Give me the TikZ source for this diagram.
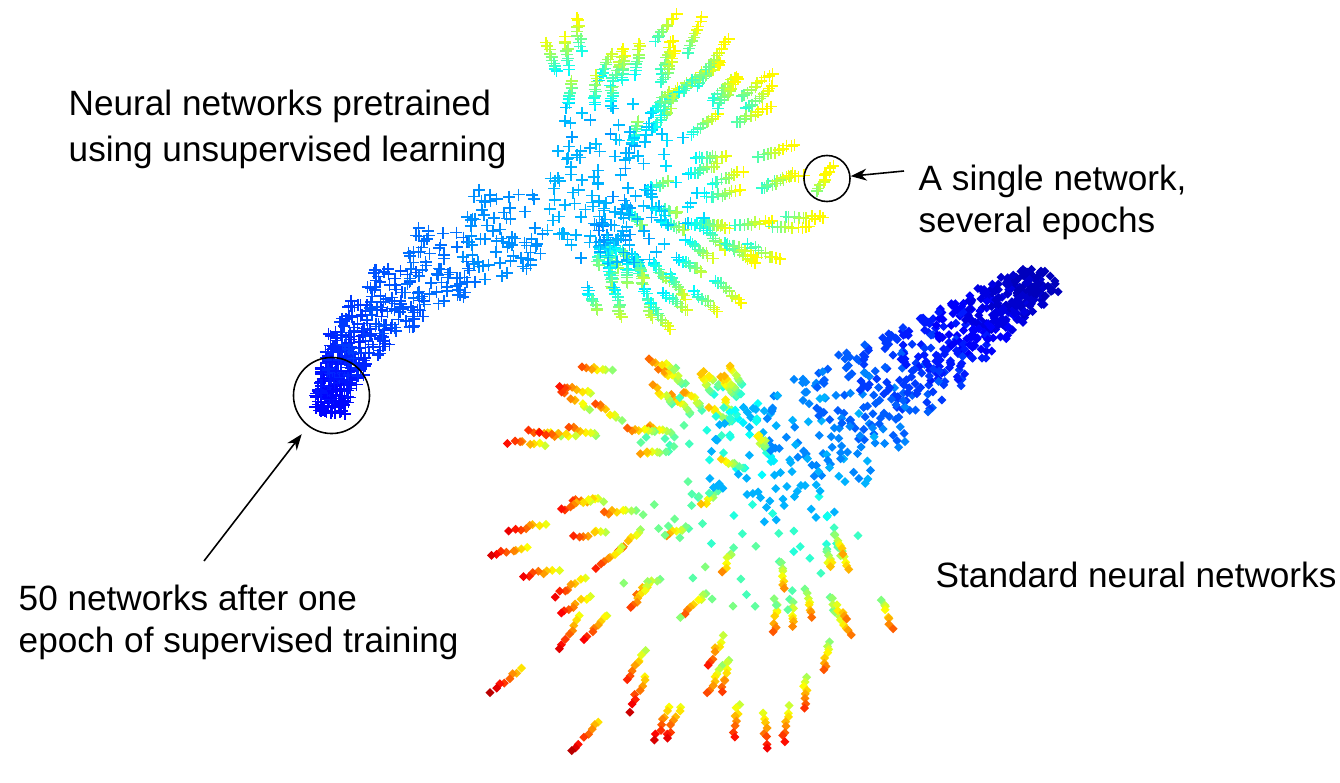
\documentclass[tikz,border=0pt]{standalone}
\usepackage{fontspec}
\setmainfont{Liberation Sans}
\usetikzlibrary{arrows.meta}

% jet colour map, value in [0,1]
\newcommand{\setjet}[1]{%
  \pgfmathsetmacro{\jv}{#1}%
  \pgfmathsetmacro{\jr}{max(0,min(1,1.5-abs(4*\jv-3)))}%
  \pgfmathsetmacro{\jg}{max(0,min(1,1.5-abs(4*\jv-2)))}%
  \pgfmathsetmacro{\jb}{max(0,min(1,1.5-abs(4*\jv-1)))}%
  \definecolor{jet}{rgb}{\jr,\jg,\jb}}

\tikzset{
  lbl/.style={anchor=base west, inner sep=0pt, font=\fontsize{10}{12}\selectfont},
  ring/.style={draw, circle, line width=0.45pt, inner sep=0pt},
  pointer/.style={-{Stealth[length=1.6mm, width=1.2mm]}, line width=0.45pt},
  plusmark/.style={line width=0.45pt}
}

\begin{document}
\begin{tikzpicture}[x=0.01cm, y=-0.01cm]
    \useasboundingbox (0,0) rectangle (1340,782);
    \pgfmathsetseed{11}

    % Standard networks
    \foreach \n in {1,...,70}{
        \pgfmathsetmacro{\oa}{360*rnd}
        \pgfmathsetmacro{\orr}{sqrt(rnd)}
        \pgfmathsetmacro{\ox}{\orr*cos(\oa)}
        \pgfmathsetmacro{\oy}{\orr*sin(\oa)}
        \pgfmathsetmacro{\uu}{(\n-0.5)/70}
        \pgfmathsetmacro{\ang}{112+188*mod(\n*0.618034,1)+4*rand}
        \pgfmathsetmacro{\dev}{15*rand}
        \pgfmathsetmacro{\rad}{(140+210*cos(\ang-220))*(0.25+0.75*sqrt(\uu))*(0.93+0.14*rnd)}
        \pgfmathsetmacro{\slen}{18+0.06*\rad}
        \foreach \e in {0,...,8}{
            \pgfmathsetmacro{\tpos}{\e/8*(1+\e/8)/2}
            \pgfmathsetmacro{\wid}{22+62*\tpos}
            \pgfmathsetmacro{\px}{(1-\tpos)*(1-\tpos)*1035+2*(1-\tpos)*\tpos*915+\tpos*\tpos*790+1.1*\wid*\ox+3*rand}
            \pgfmathsetmacro{\py}{(1-\tpos)*(1-\tpos)*285+2*(1-\tpos)*\tpos*365+\tpos*\tpos*460+0.8*\wid*\oy+3*rand}
            \setjet{0.06+0.24*\tpos}
            \fill[jet] (\px,\py-4.5) -- ++(4.5,4.5) -- ++(-4.5,4.5) -- ++(-4.5,-4.5) -- cycle;
        }
        \foreach \k in {-1,0,...,7}{
            \ifnum\k<0
                \pgfmathsetmacro{\dist}{0.5*\rad}\def\step{0}\def\kk{0}
            \else
                \pgfmathsetmacro{\dist}{\rad-\slen}\pgfmathsetmacro{\step}{\slen*\k/7}\def\kk{\k}
            \fi
            \pgfmathsetmacro{\px}{790+38*\ox+\dist*cos(\ang)+\step*cos(\ang+\dev)+2*rand}
            \pgfmathsetmacro{\py}{460+38*\oy-\dist*sin(\ang)-\step*sin(\ang+\dev)+2*rand}
            \setjet{min(0.95,0.33+0.25*\kk/7+0.36*(\dist+\step)/340)}
            \fill[jet] (\px,\py-4.5) -- ++(4.5,4.5) -- ++(-4.5,4.5) -- ++(-4.5,-4.5) -- cycle;
        }
    }

    % Pretrained networks
    \foreach \n in {1,...,70}{
        \pgfmathsetmacro{\oa}{360*rnd}
        \pgfmathsetmacro{\orr}{sqrt(rnd)}
        \pgfmathsetmacro{\ox}{\orr*cos(\oa)}
        \pgfmathsetmacro{\oy}{\orr*sin(\oa)}
        \pgfmathsetmacro{\uu}{(\n-0.5)/70}
        \pgfmathsetmacro{\ang}{-85+185*mod(\n*0.618034,1)+4*rand}
        \pgfmathsetmacro{\dev}{20*rand}
        \pgfmathsetmacro{\rad}{(135+100*cos(\ang-25))*(0.3+0.7*sqrt(\uu))*(0.93+0.14*rnd)}
        \pgfmathsetmacro{\slen}{16+0.1*\rad}
        \ifnum\n=70
            \def\ox{0}\def\oy{0}\def\ang{1.3}\def\dev{58}\def\rad{256}\def\slen{28}
        \fi
        \foreach \e in {0,...,7}{
            \pgfmathsetmacro{\tpos}{\e/7*(1+\e/7)/2}
            \pgfmathsetmacro{\wid}{20+35*\tpos}
            \pgfmathsetmacro{\px}{(1-\tpos)*(1-\tpos)*331+2*(1-\tpos)*\tpos*350+\tpos*\tpos*590+\wid*\ox+3*rand}
            \pgfmathsetmacro{\py}{(1-\tpos)*(1-\tpos)*396+2*(1-\tpos)*\tpos*280+\tpos*\tpos*195+\wid*\oy+3*rand}
            \setjet{0.13+0.17*\tpos}
            \draw[jet, plusmark] (\px-6,\py) -- ++(12,0) (\px,\py-6) -- ++(0,12);
        }
        \foreach \k in {-1,0,...,9}{
            \ifnum\k<0
                \pgfmathsetmacro{\dist}{0.45*\rad}\def\step{0}\def\kk{0}
            \else
                \pgfmathsetmacro{\dist}{\rad-\slen}\pgfmathsetmacro{\step}{\slen*\k/9}\def\kk{\k}
            \fi
            \pgfmathsetmacro{\px}{590+27*\ox+\dist*cos(\ang)+\step*cos(\ang+\dev)+1.5*rand}
            \pgfmathsetmacro{\py}{195+27*\oy-\dist*sin(\ang)-\step*sin(\ang+\dev)+1.5*rand}
            \setjet{min(0.63,0.22+0.2*\kk/9+0.25*(\dist+\step)/200)}
            \draw[jet, plusmark] (\px-6,\py) -- ++(12,0) (\px,\py-6) -- ++(0,12);
        }
    }

    % Circles and pointers
    \node[ring, minimum size=0.76cm] (blob) at (331.5,395.5) {};
    \node[ring, minimum size=0.46cm] (single) at (827,178.5) {};
    \coordinate (blobtail) at (204,561);
    \coordinate (singletail) at (904,171);
    \draw[pointer, shorten >=0.1cm] (blobtail) -- (blob);
    \draw[pointer] (singletail) -- (single);

    % Labels
    \node[lbl] (pre1) at (68,116) {Neural networks pretrained};
    \node[lbl] (pre2) at (68,162) {using unsupervised learning};
    \node[lbl] (one1) at (918,190) {A single network,};
    \node[lbl] (one2) at (918,232) {several epochs};
    \node[lbl] (sup1) at (18,610) {50 networks after one};
    \node[lbl] (sup2) at (18,652) {epoch of supervised training};
    \node[lbl] (std) at (935,587) {Standard neural networks};
\end{tikzpicture}
\end{document}
